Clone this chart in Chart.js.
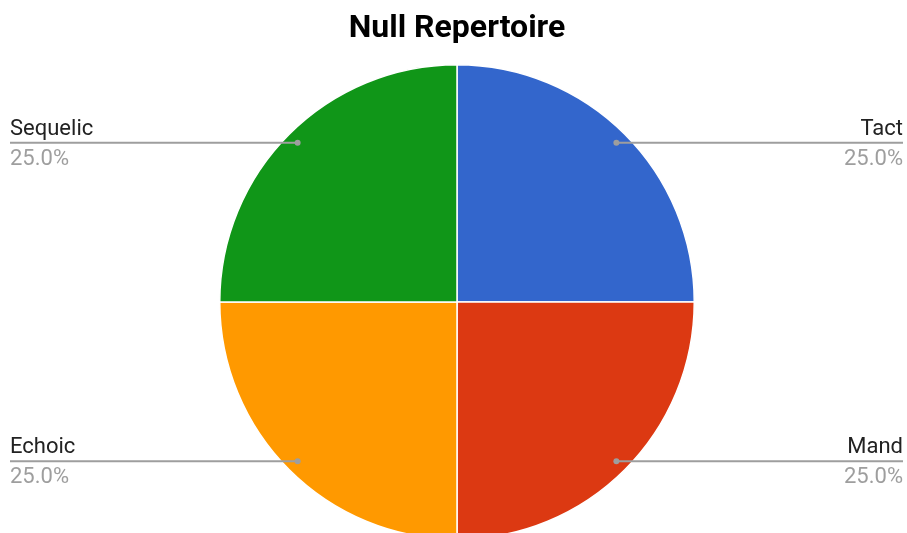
<!DOCTYPE html>
<html>
<head>
<meta charset="utf-8">
<script src="https://cdn.jsdelivr.net/npm/chart.js@4/dist/chart.umd.min.js"></script>
<style>
html,body{margin:0;padding:0;background:#fff;overflow:hidden;}
#wrap{position:absolute;left:0;top:0;width:907px;height:540px;}
</style>
</head>
<body>
<div id="wrap"><canvas id="c" width="907" height="540"></canvas></div>
<script>
const titleText = "Null Repertoire";
const categories = ["Tact", "Mand", "Echoic", "Sequelic"];
const values = [1, 1, 1, 1];
const colors = ["#3366CC", "#DC3912", "#FF9900", "#109618"];

const leaderPlugin = {
  id: 'leaders',
  afterDraw(chart) {
    const ctx = chart.ctx;
    const meta = chart.getDatasetMeta(0);
    const data = chart.data.datasets[0].data;
    const total = data.reduce((a, b) => a + b, 0);
    const W = chart.width;
    meta.data.forEach((arc, i) => {
      const p = arc.getProps(['x','y','startAngle','endAngle','outerRadius'], true);
      const mid = (p.startAngle + p.endAngle) / 2;
      const r = p.outerRadius * 0.95;
      const dx = p.x + Math.cos(mid) * r;
      const dy = p.y + Math.sin(mid) * r;
      const right = Math.cos(mid) >= 0;
      const endX = right ? W - 4 : 10;
      ctx.save();
      ctx.strokeStyle = '#9e9e9e';
      ctx.lineWidth = 2;
      ctx.beginPath();
      ctx.moveTo(dx, dy);
      ctx.lineTo(endX, dy);
      ctx.stroke();
      ctx.fillStyle = '#9e9e9e';
      ctx.beginPath();
      ctx.arc(dx, dy, 3, 0, Math.PI * 2);
      ctx.fill();
      ctx.font = '22px Roboto';
      ctx.textAlign = right ? 'right' : 'left';
      ctx.textBaseline = 'alphabetic';
      ctx.fillStyle = '#222222';
      ctx.fillText(chart.data.labels[i], endX, dy - 8);
      ctx.fillStyle = '#9e9e9e';
      ctx.fillText((data[i] / total * 100).toFixed(1) + '%', endX, dy + 22);
      ctx.restore();
    });
  }
};

new Chart(document.getElementById('c'), {
  type: 'pie',
  data: {
    labels: categories,
    datasets: [{
      data: values,
      backgroundColor: colors,
      borderColor: '#ffffff',
      borderWidth: 1.5
    }]
  },
  options: {
    responsive: false,
    animation: false,
    layout: { padding: { left: 219, right: 212, top: 0, bottom: 0 } },
    plugins: {
      legend: { display: false },
      tooltip: { enabled: false },
      title: {
        display: true,
        text: titleText,
        color: '#000000',
        font: { family: 'Roboto', size: 32, weight: 'bold' },
        padding: { top: 9.8, bottom: 15.8 }
      }
    }
  },
  plugins: [leaderPlugin]
});
</script>
</body>
</html>
